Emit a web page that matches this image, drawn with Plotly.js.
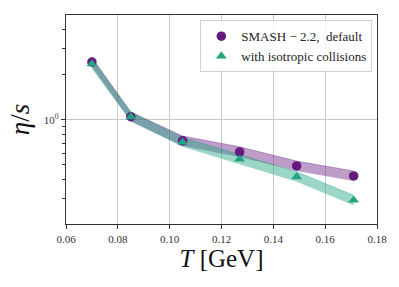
<!DOCTYPE html>
<html>
<head>
<meta charset="utf-8">
<script src="https://cdn.plot.ly/plotly-3.0.1.min.js"></script>
<style>html,body{margin:0;padding:0;background:#fff}#chart{width:399px;height:287px}</style>
</head>
<body>
<div id="chart"></div>
<script>
const temperature = [0.070, 0.085, 0.105, 0.127, 0.149, 0.171];
const defaultEta = [2.44, 1.05, 0.724, 0.611, 0.492, 0.422];
const defaultUpper = [2.62, 1.13, 0.78, 0.66, 0.53, 0.455];
const defaultLower = [2.27, 0.98, 0.67, 0.565, 0.455, 0.39];
const isoEta = [2.37, 1.05, 0.71, 0.546, 0.416, 0.29];
const isoUpper = [2.55, 1.13, 0.765, 0.59, 0.45, 0.313];
const isoLower = [2.2, 0.975, 0.66, 0.505, 0.385, 0.268];
const xTicks = [0.06, 0.08, 0.10, 0.12, 0.14, 0.16, 0.18];
const xTickText = ['0.06', '0.08', '0.10', '0.12', '0.14', '0.16', '0.18'];
const yMinorTicks = [0.3, 0.4, 0.5, 0.6, 0.7, 0.8, 0.9, 2, 3, 4];
const labels = ['SMASH − 2.2,  default', 'with isotropic collisions'];

const purple = '#63197f';
const green = '#23a383';
const serif = 'Liberation Serif, Times New Roman, serif';

function band(x, lo, hi, color) {
  return [
    {x: x, y: lo, mode: 'lines', line: {width: 0, color: color}, showlegend: false, hoverinfo: 'skip'},
    {x: x, y: hi, mode: 'lines', fill: 'tonexty', fillcolor: color, line: {width: 0.8, color: color}, showlegend: false, hoverinfo: 'skip'}
  ];
}

const data = [
  ...band(temperature, defaultLower, defaultUpper, 'rgba(99,25,127,0.42)'),
  ...band(temperature, isoLower, isoUpper, 'rgba(35,163,131,0.45)'),
  {x: temperature, y: defaultEta, mode: 'markers', name: labels[0],
   marker: {symbol: 'circle', size: 9.5, color: purple}},
  {x: temperature, y: isoEta, mode: 'markers', name: labels[1],
   marker: {symbol: 'triangle-up', size: 9.5, color: green}}
];

const layout = {
  width: 399, height: 287,
  margin: {l: 66, r: 22, t: 15, b: 63},
  paper_bgcolor: '#fff', plot_bgcolor: '#fff',
  font: {family: serif, color: '#222', size: 11},
  showlegend: true,
  legend: {x: 0.985, y: 0.975, xanchor: 'right', yanchor: 'top', traceorder: 'normal',
    bgcolor: 'rgba(255,255,255,0.85)', bordercolor: '#d0d0d0', borderwidth: 1,
    font: {family: serif, size: 13, color: '#222'}, itemwidth: 30, tracegroupgap: 0},
  xaxis: {
    range: [0.06, 0.18], tickvals: xTicks, ticktext: xTickText,
    showgrid: true, gridcolor: '#c8c8c8', gridwidth: 1,
    ticks: 'outside', ticklen: 4, tickcolor: '#333',
    showline: true, linecolor: '#333', linewidth: 1.3, mirror: true,
    zeroline: false, tickfont: {family: serif, size: 11, color: '#333'},
    title: {text: '<i>T</i> [GeV]', font: {family: serif, size: 25, color: '#111'}, standoff: 6}
  },
  yaxis: {
    type: 'log', range: [Math.log10(0.201), Math.log10(5.04)],
    tickvals: [1], ticktext: ['10<sup>0</sup>'],
    showgrid: true, gridcolor: '#c8c8c8', gridwidth: 1,
    ticks: 'outside', ticklen: 4, tickcolor: '#333',
    minor: {tickvals: yMinorTicks, ticks: 'outside', ticklen: 2.5, tickcolor: '#333', showgrid: false},
    showline: true, linecolor: '#333', linewidth: 1.3, mirror: true,
    zeroline: false, tickfont: {family: serif, size: 11, color: '#333'},
    title: {text: '<i>η</i>/<i>s</i>', font: {family: serif, size: 27, color: '#111'}, standoff: 6}
  }
};

Plotly.newPlot('chart', data, layout, {displayModeBar: false, staticPlot: true});
</script>
</body>
</html>
